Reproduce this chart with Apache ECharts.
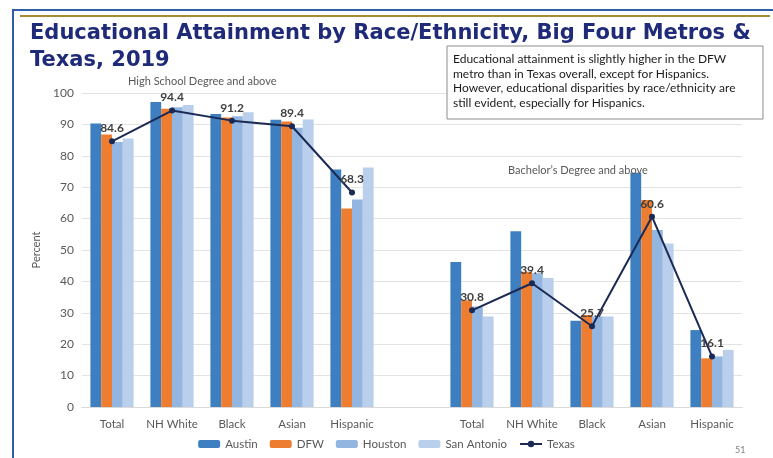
<!DOCTYPE html>
<html><head><meta charset="utf-8">
<script src="https://cdn.jsdelivr.net/npm/echarts@6/dist/echarts.min.js"></script>
<style>html,body{margin:0;padding:0;background:#fff}#c{width:773px;height:458px}</style>
</head><body><div id="c"></div>
<script>
const groups = ['Total', 'NH White', 'Black', 'Asian', 'Hispanic'];
// High School Degree and above
const austinHS = [90.3, 97.1, 93.3, 91.5, 75.6];
const dfwHS = [86.8, 95.0, 92.2, 90.9, 63.2];
const houstonHS = [84.4, 95.5, 92.6, 88.9, 66.1];
const sanAntonioHS = [85.5, 96.2, 93.9, 91.6, 76.3];
const texasHS = [84.6, 94.4, 91.2, 89.4, 68.3];
// Bachelor's Degree and above
const austinBA = [46.2, 56.0, 27.5, 74.6, 24.5];
const dfwBA = [34.0, 43.1, 29.3, 65.9, 15.5];
const houstonBA = [32.0, 42.6, 28.8, 56.4, 16.1];
const sanAntonioBA = [28.8, 41.1, 28.8, 52.1, 18.2];
const texasBA = [30.8, 39.4, 25.7, 60.6, 16.1];
const yTicks = [0, 100, 10];

const cats = [...groups, '', ...groups];
const join = (a, b) => [...a, null, ...b];

const font = 'Lato, "Open Sans", sans-serif';
const chart = echarts.init(document.getElementById('c'));
const barBase = { type: 'bar', barGap: '0%', barCategoryGap: '28%' };
chart.setOption({
  animation: false,
  textStyle: { fontFamily: font },
  title: [
    { text: 'Educational Attainment by Race/Ethnicity, Big Four Metros &\nTexas, 2019', left: 25, top: 15,
      textStyle: { fontFamily: '"DejaVu Sans", sans-serif', fontWeight: 'bold', fontSize: 21, color: '#1f2a78', lineHeight: 27 } },
    { text: 'High School Degree and above', left: 123, top: 71,
      textStyle: { fontFamily: font, fontWeight: 'normal', fontSize: 11, color: '#595959' } },
    { text: 'Bachelor\u2019s Degree and above', left: 503, top: 160,
      textStyle: { fontFamily: font, fontWeight: 'normal', fontSize: 11, color: '#595959' } }
  ],
  grid: { left: 82, right: 31, top: 93, bottom: 51 },
  legend: {
    bottom: 3, left: 'center', itemWidth: 22, itemHeight: 8, itemGap: 12,
    textStyle: { fontSize: 11.5, color: '#595959', fontFamily: font },
    data: ['Austin', 'DFW', 'Houston', 'San Antonio', 'Texas']
  },
  xAxis: {
    type: 'category', data: cats,
    axisLine: { lineStyle: { color: '#d9d9d9' } }, axisTick: { show: false },
    axisLabel: { color: '#595959', fontSize: 11.5, margin: 11, fontFamily: font, interval: 0 }
  },
  yAxis: {
    type: 'value', min: yTicks[0], max: yTicks[1], interval: yTicks[2],
    name: 'Percent', nameLocation: 'middle', nameGap: 38, nameRotate: 90,
    nameTextStyle: { color: '#595959', fontSize: 11, fontFamily: font },
    axisLine: { show: false }, axisTick: { show: false },
    axisLabel: { color: '#595959', fontSize: 12, margin: 8, fontFamily: font },
    splitLine: { lineStyle: { color: '#e3e3e3' } }
  },
  series: [
    { ...barBase, name: 'Austin', data: join(austinHS, austinBA), itemStyle: { color: '#3d7fc1' } },
    { ...barBase, name: 'DFW', data: join(dfwHS, dfwBA), itemStyle: { color: '#ed7d31' } },
    { ...barBase, name: 'Houston', data: join(houstonHS, houstonBA), itemStyle: { color: '#93b6e0' } },
    { ...barBase, name: 'San Antonio', data: join(sanAntonioHS, sanAntonioBA), itemStyle: { color: '#b9cfeb' } },
    { type: 'line', name: 'Texas', data: join(texasHS, texasBA), connectNulls: false,
      symbol: 'circle', symbolSize: 6, z: 5,
      lineStyle: { color: '#1b2a55', width: 2 }, itemStyle: { color: '#1b2a55' },
      label: { show: true, position: 'top', distance: 4, fontSize: 12, fontWeight: 'bold', color: '#404040', fontFamily: font,
        formatter: p => p.value.toFixed(1) } }
  ],
  graphic: [
    { type: 'rect', shape: { x: 12, y: 9, width: 770, height: 2 }, style: { fill: '#2f5ea8' }, silent: true },
    { type: 'rect', shape: { x: 12, y: 9, width: 2, height: 460 }, style: { fill: '#2f5ea8' }, silent: true },
    { type: 'rect', shape: { x: 20, y: 15, width: 750, height: 2 }, style: { fill: '#a68a36' }, silent: true },
    { type: 'rect', shape: { x: 447, y: 46, width: 316, height: 73 },
      style: { fill: '#fff', stroke: '#8c8c8c', lineWidth: 1 }, z: 10, silent: true },
    { type: 'text', left: 453, top: 52, z: 11, silent: true,
      style: { text: 'Educational attainment is slightly higher in the DFW\nmetro than in Texas overall, except for Hispanics.\nHowever, educational disparities by race/ethnicity are\nstill evident, especially for Hispanics.',
        fontSize: 12, lineHeight: 14.5, fill: '#1a1a1a', fontFamily: font } },
    { type: 'text', left: 735, top: 446, silent: true,
      style: { text: '51', fontSize: 9, fill: '#7f7f7f', fontFamily: font } }
  ]
});
</script></body></html>
